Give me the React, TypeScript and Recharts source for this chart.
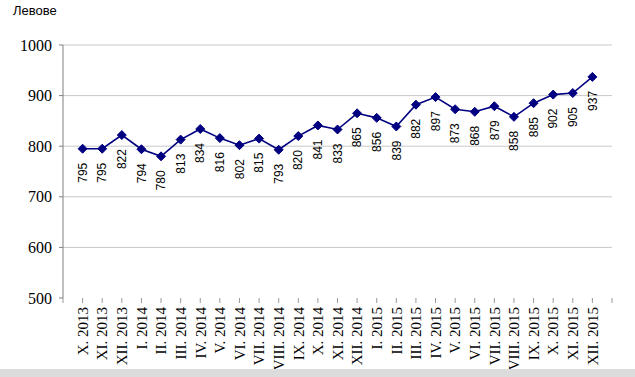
import React from "react";
import { LineChart, Line, XAxis, YAxis, ReferenceLine, LabelList } from "recharts";

const months = [
    "X. 2013", "XI. 2013", "XII. 2013",
    "I. 2014", "II. 2014", "III. 2014", "IV. 2014", "V. 2014", "VI. 2014",
    "VII. 2014", "VIII. 2014", "IX. 2014", "X. 2014", "XI. 2014", "XII. 2014",
    "I. 2015", "II. 2015", "III. 2015", "IV. 2015", "V. 2015", "VI. 2015",
    "VII. 2015", "VIII. 2015", "IX. 2015", "X. 2015", "XI. 2015", "XII. 2015",
];

const wages = [
    795, 795, 822, 794, 780, 813, 834, 816, 802, 815, 793, 820, 841, 833, 865,
    856, 839, 882, 897, 873, 868, 879, 858, 885, 902, 905, 937,
];

const yTicks = [500, 600, 700, 800, 900, 1000];
const gridValues = [600, 700, 800, 900, 1000];

const data = months.map((m, i) => ({ pos: i + 1, month: m, value: wages[i] }));
const xTicks = Array.from({ length: months.length + 2 }, (_, i) => i);

const serif = "'Liberation Serif', 'Times New Roman', serif";
const sans = "'Liberation Sans', Arial, sans-serif";

const MonthTick = (props: any) => {
    const { x, y, payload } = props;
    const label = months[payload.value - 1] ?? "";
    return (
        <g transform={`translate(${x},${y}) rotate(-90)`}>
            <text x={-2} y={0} dy="0.35em" textAnchor="end" fontFamily={serif} fontSize={15} fill="#000">
                {label}
            </text>
        </g>
    );
};

const ValueTick = (props: any) => {
    const { x, y, payload } = props;
    return (
        <text x={x - 5} y={y} dy="0.35em" textAnchor="end" fontFamily={serif} fontSize={16} fill="#000">
            {payload.value}
        </text>
    );
};

const ValueLabel = (props: any) => {
    const { x, y, value } = props;
    return (
        <g transform={`translate(${x},${y}) rotate(-90)`}>
            <text x={-14} y={0} dy="0.35em" textAnchor="end" fontFamily={sans} fontSize={12} fill="#000">
                {value}
            </text>
        </g>
    );
};

const Diamond = (props: any) => {
    const { cx, cy } = props;
    const r = 4.5;
    return (
        <path
            key={`d-${cx}`}
            d={`M${cx},${cy - r}L${cx + r},${cy}L${cx},${cy + r}L${cx - r},${cy}Z`}
            fill="#000080"
            stroke="#000080"
        />
    );
};

export default function App() {
    return (
        <div style={{ position: "absolute", left: 0, top: 0, width: 635, height: 377, background: "#fff", overflow: "hidden" }}>
            <div style={{ position: "absolute", left: 13, top: 3, fontFamily: sans, fontSize: 13, color: "#000" }}>
                Левове
            </div>
            <LineChart width={635} height={377} data={data} margin={{ top: 45, right: 23, left: 0, bottom: 0 }}>
                {gridValues.map((g) => (
                    <ReferenceLine key={g} y={g} stroke="#c8c8c8" strokeWidth={1} ifOverflow="visible" />
                ))}
                <XAxis
                    dataKey="pos"
                    type="number"
                    domain={[0, months.length + 1]}
                    ticks={xTicks}
                    interval={0}
                    axisLine={false}
                    tickLine={{ stroke: "#999" }}
                    tickSize={5}
                    height={79}
                    tick={<MonthTick />}
                />
                <YAxis
                    domain={[500, 1000]}
                    ticks={yTicks}
                    interval={0}
                    width={63}
                    axisLine={{ stroke: "#808080" }}
                    tickLine={{ stroke: "#808080" }}
                    tickSize={4}
                    tick={<ValueTick />}
                />
                <Line
                    type="linear"
                    dataKey="value"
                    stroke="#000080"
                    strokeWidth={1.6}
                    dot={<Diamond />}
                    activeDot={false}
                    isAnimationActive={false}
                >
                    <LabelList dataKey="value" content={<ValueLabel />} />
                </Line>
            </LineChart>
            <div style={{ position: "absolute", left: 0, top: 369, width: 635, height: 8, background: "#dcdcdc" }} />
        </div>
    );
}
